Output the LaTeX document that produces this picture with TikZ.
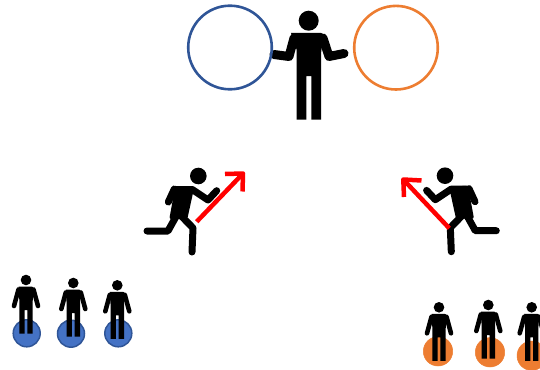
\documentclass[tikz,border=0pt]{standalone}
\definecolor{myblue}{HTML}{4472C4}
\definecolor{mydarkblue}{HTML}{2F5597}
\definecolor{myorange}{HTML}{ED7D31}
\tikzset{
	limb/.style={line width=#1,line cap=round,line join=round},
	smallman/.pic={
		\fill (0,0) circle [radius=5.3];
		\fill [rounded corners=2pt] (-7.5,6.5)--(7.5,6.5)--(6.7,20) [sharp corners]--(6.7,53.5)--(1.4,53.5)--(1.4,30)--(-1.4,30)--(-1.4,53.5)--(-6.7,53.5)--(-6.7,20)--cycle;
		\draw [limb=4.6pt] (-7.5,9.5)--(-12,26) (7.5,9.5)--(12,26);
	},
	runner/.pic={
		\fill (0,0) circle [radius=8.3];
		\fill [rounded corners=2pt] (-23,10)--(-4,11)--(-11,43)--(-29,43)--cycle;
		\draw [limb=7pt] (-24,13)--(-30,26) (-22,13.5)--(-6,13.5)--(9.7,24)--(18.4,14.7);
		\draw [limb=7pt] (-22,40)--(-30.3,55)--(-51.3,55) (-17,40)--(-5.3,52)--(-6.3,76);
	},
	redarrow/.style={draw=red,line width=4.5pt,line join=round},
	bluedot/.style={fill=myblue,draw=mydarkblue,line width=1.5pt},
	orangedot/.style={fill=myorange,draw=myorange,line width=0.5pt},
}
\begin{document}
\begin{tikzpicture}[x=1pt,y=-1pt]
	\useasboundingbox (0,0) rectangle (540,369);
	% big man
	\coordinate (H) at (308.7,20.7);
	\fill (H) circle [radius=10];
	\fill [rounded corners=5pt] (291,33)--(326,33)--(321,50) [sharp corners]--(321,119.5)--(311.3,119.5)--(311.3,76)--(306.3,76)--(306.3,119.5)--(296.7,119.5)--(296.7,50)--cycle;
	\draw [limb=9pt] (294,38)--(289,56.5)--(274,54.5) (323,38)--(329,56.5)--(344,53.5);
	% big circles
	\coordinate (L) at (230,47.5);
	\coordinate (R) at (396,47.7);
	\draw [mydarkblue,line width=2.6pt] (L) circle [radius=41.8];
	\draw [myorange,line width=2.6pt] (R) circle [radius=41.8];
	% runners
	\coordinate (P) at (198.3,176);
	\coordinate (Q) at (445,175.7);
	\pic at (P) {runner};
	\pic [xscale=-1] at (Q) {runner};
	% arrows
	\coordinate (A) at (196.7,221.7);
	\coordinate (B) at (243,173.5);
	\coordinate (C) at (449.3,228.3);
	\coordinate (D) at (403.3,179.5);
	\draw [redarrow] (A)--(B);
	\draw [redarrow] (225,174)--(B)--(242.5,191.5);
	\draw [redarrow] (C)--(D);
	\draw [redarrow] (421.5,180.5)--(D)--(404,197);
	% blue group
	\foreach \x/\y/\a/\b in {26.7/333.3/26/280, 71/333.7/73.3/283, 118.3/333.3/117.3/285.3}{
		\draw [bluedot] (\x,\y) circle [radius=13.5];
		\pic at (\a,\b) {smallman};
	}
	% orange group
	\foreach \x/\y/\a/\b in {438/351.3/439/307.3, 490/352.3/488.3/305, 531.7/355.7/531.7/307.3}{
		\draw [orangedot] (\x,\y) circle [radius=14.7];
		\pic at (\a,\b) {smallman};
	}
\end{tikzpicture}
\end{document}
